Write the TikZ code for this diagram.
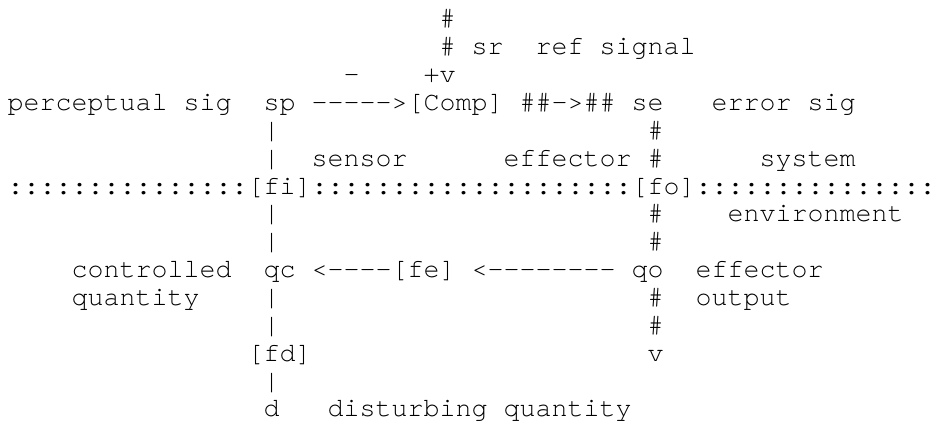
\documentclass[tikz,border=0pt]{standalone}
\usepackage{fontspec}
\setmonofont[Ligatures=NoCommon]{texgyrecursor-regular.otf}
\tikzset{
  txt/.style={anchor=base west, inner sep=0pt, outer sep=0pt, text=black,
    font=\fontsize{26.67pt}{28pt}\selectfont\ttfamily}
}
% place a token: name, column, row, text
\newcommand\asctok[4]{\node[txt] (#1) at ({7.6+16.0*#2},{396-27.857*#3}) {#4};}
\begin{document}
\begin{tikzpicture}[x=1pt,y=1pt]
\useasboundingbox[fill=white] (0,0) rectangle (934,423);
% row 0-2
\asctok{h0}{27}{0}{\#}
\asctok{h1}{27}{1}{\#}
\asctok{sr}{29}{1}{sr}
\asctok{ref}{33}{1}{ref}
\asctok{refsig}{37}{1}{signal}
\asctok{minus}{21}{2}{-}
\asctok{plusv}{26}{2}{+v}
% row 3
\asctok{perc}{0}{3}{perceptual}
\asctok{psig}{11}{3}{sig}
\asctok{sp}{16}{3}{sp}
\asctok{comp}{19}{3}{----->[Comp]}
\asctok{hh}{32}{3}{\#\#->\#\#}
\asctok{se}{39}{3}{se}
\asctok{err}{44}{3}{error}
\asctok{esig}{50}{3}{sig}
% row 4-5
\asctok{b4}{16}{4}{|}
\asctok{h4}{40}{4}{\#}
\asctok{b5}{16}{5}{|}
\asctok{sensor}{19}{5}{sensor}
\asctok{effector}{31}{5}{effector}
\asctok{h5}{40}{5}{\#}
\asctok{system}{47}{5}{system}
% row 6
\asctok{cl}{0}{6}{:::::::::::::::}
\asctok{fi}{15}{6}{[fi]}
\asctok{cm}{19}{6}{::::::::::::::::::::}
\asctok{fo}{39}{6}{[fo]}
\asctok{cr}{43}{6}{:::::::::::::::\kern-8pt}
% row 7-8
\asctok{b7}{16}{7}{|}
\asctok{h7}{40}{7}{\#}
\asctok{env}{45}{7}{environment}
\asctok{b8}{16}{8}{|}
\asctok{h8}{40}{8}{\#}
% row 9
\asctok{ctrl}{4}{9}{controlled}
\asctok{qc}{16}{9}{qc}
\asctok{fe}{19}{9}{<----[fe]}
\asctok{arr}{29}{9}{<--------}
\asctok{qo}{39}{9}{qo}
\asctok{eff2}{43}{9}{effector}
% row 10-11
\asctok{quant}{4}{10}{quantity}
\asctok{b10}{16}{10}{|}
\asctok{h10}{40}{10}{\#}
\asctok{output}{43}{10}{output}
\asctok{b11}{16}{11}{|}
\asctok{h11}{40}{11}{\#}
% row 12-14
\asctok{fd}{15}{12}{[fd]}
\asctok{v}{40}{12}{v}
\asctok{b13}{16}{13}{|}
\asctok{d}{16}{14}{d}
\asctok{dist}{20}{14}{disturbing}
\asctok{dq}{31}{14}{quantity}
\end{tikzpicture}
\end{document}
